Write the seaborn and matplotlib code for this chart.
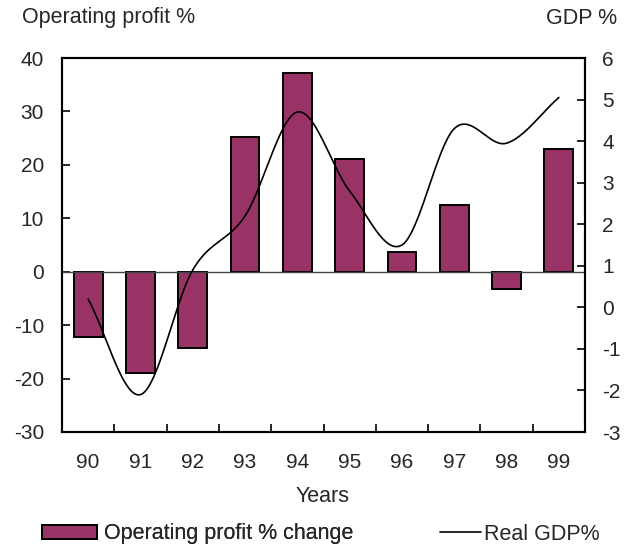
import numpy as np
import pandas as pd
import matplotlib
matplotlib.use("Agg")
import matplotlib.pyplot as plt
import seaborn as sns
from matplotlib.patches import Patch
from matplotlib.lines import Line2D

years = ["90", "91", "92", "93", "94", "95", "96", "97", "98", "99"]
profit = [-12.3, -19.0, -14.2, 25.2, 37.2, 21.1, 3.6, 12.4, -3.3, 22.9]
gdp = [0.2, -2.1, 0.9, 2.2, 4.7, 2.8, 1.5, 4.3, 3.95, 5.05]

sns.set_theme(style="white")
plt.rcParams['font.family'] = ['Liberation Sans', 'DejaVu Sans']
plt.rcParams['axes.unicode_minus'] = False
FS = 15
FT = 15.5

fig = plt.figure(figsize=(6.33, 5.5), dpi=100)
ax = fig.add_axes([62/633, 1-432/550, (585-62)/633, (432-58)/550])

df = pd.DataFrame({"year": years, "profit": profit})
sns.barplot(data=df, x="year", y="profit", ax=ax, color="#993366", saturation=1,
            width=0.55, edgecolor="black", linewidth=1.4)
ax.axhline(0, color="#444444", lw=1.0, zorder=1)
ax.set_ylim(-30, 40)
ax.set_yticks(range(-30, 41, 10))
ax.set_xlim(-0.5, 9.5)
ax.set_xlabel("")
ax.set_ylabel("")
ax.set_xticks(range(10))
ax.set_xticklabels(years, fontsize=FS)
ax.tick_params(axis="x", length=0, pad=15)
ax.set_xticks(np.arange(0.5, 9.5, 1), minor=True)
ax.tick_params(axis="x", which="minor", direction="in", length=6, width=1.2, color="black", bottom=True)
ax.tick_params(axis="y", direction="in", length=6, width=1.2, color="black", labelsize=FS, left=True, pad=13)
for s in ax.spines.values():
    s.set_color("black")
    s.set_linewidth(1.5)

# Smoothed (Catmull-Rom) line through GDP values, like the spreadsheet's smoothed line
ax2 = ax.twinx()
xs = np.arange(len(gdp), dtype=float)
ys = np.array(gdp, dtype=float)
px = np.concatenate([[2*xs[0]-xs[1]], xs, [2*xs[-1]-xs[-2]]])
py = np.concatenate([[2*ys[0]-ys[1]], ys, [2*ys[-1]-ys[-2]]])
cx, cy = [], []
t = np.linspace(0, 1, 40)
for i in range(1, len(px)-2):
    for arr, out in ((px, cx), (py, cy)):
        p0, p1, p2, p3 = arr[i-1], arr[i], arr[i+1], arr[i+2]
        seg = 0.5*((2*p1) + (-p0+p2)*t + (2*p0-5*p1+4*p2-p3)*t**2 + (-p0+3*p1-3*p2+p3)*t**3)
        out.extend(seg[:-1] if i < len(px)-3 else seg)
line_df = pd.DataFrame({"x": cx, "y": cy})
sns.lineplot(data=line_df, x="x", y="y", ax=ax2, color="black", lw=1.2, sort=False, estimator=None)
ax2.set_ylim(-3, 6)
ax2.set_yticks(range(-3, 7))
ax2.set_xlim(-0.5, 9.5)
ax2.set_ylabel("")
ax2.set_xlabel("")
ax2.tick_params(axis="y", direction="in", length=6, width=1.2, color="black", labelsize=FS, right=True, pad=12.5)
for s in ax2.spines.values():
    s.set_color("black")
    s.set_linewidth(1.5)

fig.text(22/633, 1-18/550, "Operating profit %", fontsize=FT, ha="left", va="center")
fig.text(617/633, 1-18/550, "GDP %", fontsize=FT, ha="right", va="center")
fig.text(323/633, 1-497/550, "Years", fontsize=FT, ha="center", va="center")

leg1 = fig.legend([Patch(facecolor="#993366", edgecolor="black", lw=1.4)],
                  ["Operating profit % change"], loc="center left",
                  bbox_to_anchor=(42/633, 1-534/550), frameon=False, fontsize=FT,
                  handlelength=2.55, handleheight=0.6, handletextpad=0.35,
                  borderpad=0, borderaxespad=0)
leg2 = fig.legend([Line2D([0], [0], color="black", lw=1.2)],
                  ["Real GDP%"], loc="center left",
                  bbox_to_anchor=(440/633, 1-534/550), frameon=False, fontsize=FT,
                  handlelength=1.9, handletextpad=0.15,
                  borderpad=0, borderaxespad=0)
fig.add_artist(leg1)

fig.savefig("out.png", dpi=100)
